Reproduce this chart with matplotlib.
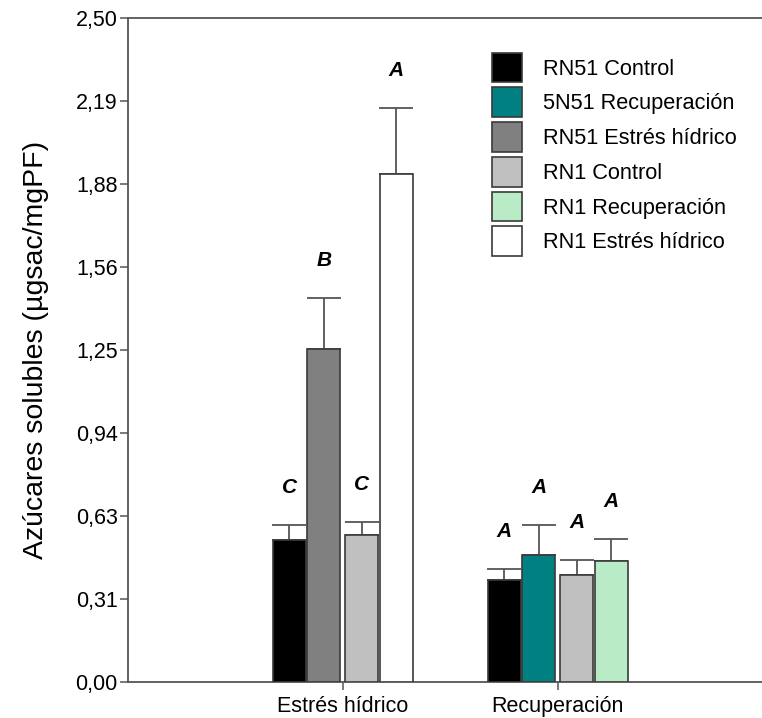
import numpy as np
import matplotlib.pyplot as plt
from matplotlib.patches import Patch

plt.rcParams['font.family'] = ['Liberation Sans', 'DejaVu Sans']

# Datos
grupos = ["Estrés hídrico", "Recuperación"]
series = ["RN51 Control", "5N51 Recuperación", "RN51 Estrés hídrico",
          "RN1 Control", "RN1 Recuperación", "RN1 Estrés hídrico"]
colores = ["#000000", "#008080", "#808080", "#c0c0c0", "#b9ebc6", "#ffffff"]
# posición de cada serie dentro del grupo (0..3)
hueco = [0, 1, 1, 2, 3, 3]

medias = {
    "RN51 Control":        [0.534, 0.383],
    "5N51 Recuperación":   [np.nan, 0.477],
    "RN51 Estrés hídrico": [1.252, np.nan],
    "RN1 Control":         [0.552, 0.402],
    "RN1 Recuperación":    [np.nan, 0.456],
    "RN1 Estrés hídrico":  [1.910, np.nan],
}
errores = {
    "RN51 Control":        [0.056, 0.042],
    "5N51 Recuperación":   [np.nan, 0.113],
    "RN51 Estrés hídrico": [0.194, np.nan],
    "RN1 Control":         [0.050, 0.057],
    "RN1 Recuperación":    [np.nan, 0.082],
    "RN1 Estrés hídrico":  [0.249, np.nan],
}
letras = {
    "RN51 Control":        ["C", "A"],
    "5N51 Recuperación":   [None, "A"],
    "RN51 Estrés hídrico": ["B", None],
    "RN1 Control":         ["C", "A"],
    "RN1 Recuperación":    [None, "A"],
    "RN1 Estrés hídrico":  ["A", None],
}

yticks = [0.0, 0.3125, 0.625, 0.9375, 1.25, 1.5625, 1.875, 2.1875, 2.5]
ytick_labels = ["0,00", "0,31", "0,63", "0,94", "1,25", "1,56", "1,88", "2,19", "2,50"]

eje = "#555555"
borde = "#3a3a3a"

fig = plt.figure(figsize=(7.62, 7.18), dpi=100)
ax = fig.add_axes([128 / 762, 36 / 718, 1 - 128 / 762, (682 - 17.7) / 718])

desplaz = [-0.248, -0.088, 0.088, 0.248]
ancho = 0.153
xg = np.arange(len(grupos))

for s, c, h in zip(series, colores, hueco):
    x = xg + desplaz[h]
    m = np.array(medias[s], dtype=float)
    e = np.array(errores[s], dtype=float)
    ok = ~np.isnan(m)
    ax.bar(x[ok], m[ok], width=ancho, color=c, edgecolor=borde, linewidth=1.2, zorder=3)
    ax.errorbar(x[ok], m[ok], yerr=[np.zeros(ok.sum()), e[ok]], fmt="none",
                ecolor=eje, elinewidth=1.3, capsize=12, capthick=1.3, zorder=2)
    for xi, mi, ei, l in zip(x, m, e, letras[s]):
        if l is None:
            continue
        ax.annotate(l, (xi, mi + ei), xytext=(0, 27), textcoords="offset points",
                    ha="center", va="center", fontsize=15, fontweight="bold",
                    fontstyle="italic")

ax.set_xlim(-0.999, 1.95)
ax.set_ylim(0, 2.5)
ax.set_yticks(yticks)
ax.set_yticklabels(ytick_labels)
ax.set_xticks(xg)
ax.set_xticklabels(grupos)
ax.tick_params(axis="both", length=6, width=1.1, color=eje)
ax.tick_params(axis="y", labelsize=15.5, pad=1.5)
ax.tick_params(axis="x", labelsize=15.5, pad=4)
ax.set_ylabel("Azúcares solubles (µgsac/mgPF)", fontsize=20.5, labelpad=19)

for lado in ["left", "bottom", "top"]:
    ax.spines[lado].set_color(eje)
    ax.spines[lado].set_linewidth(1.3)
ax.spines["right"].set_visible(False)

handles = [Patch(facecolor=c, edgecolor=borde, linewidth=1.2) for c in colores]
ax.legend(handles, series, loc="upper left", bbox_to_anchor=(492 / 762, 1 - 52.7 / 718),
          bbox_transform=fig.transFigure, frameon=False, fontsize=15.7,
          handlelength=1.376, handleheight=1.72, handletextpad=0.96,
          labelspacing=0.23, borderpad=0, borderaxespad=0)

fig.savefig("out.png", dpi=100)
